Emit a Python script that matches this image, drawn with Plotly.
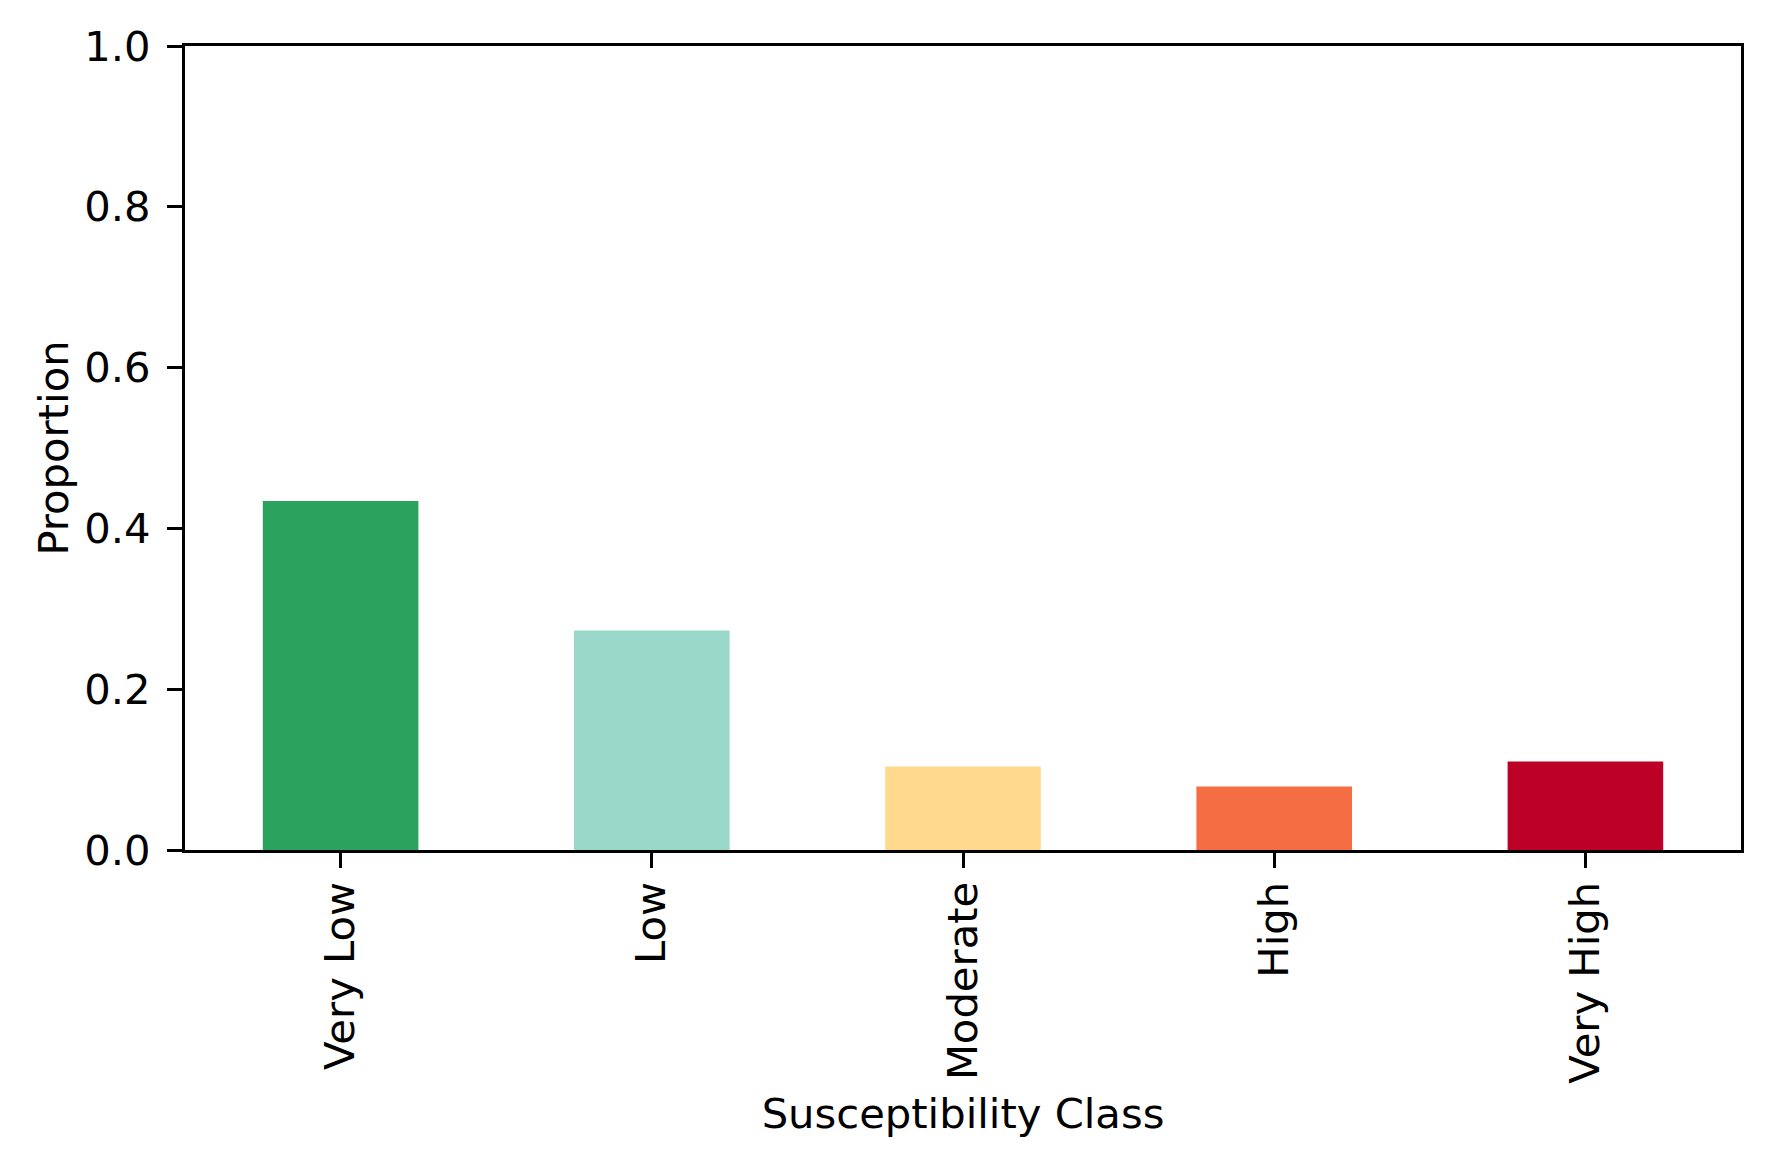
import plotly.graph_objects as go

categories = ["Very Low", "Low", "Moderate", "High", "Very High"]
proportions = [0.434, 0.273, 0.104, 0.079, 0.110]
bar_colors = ["#2ca25f", "#99d8c9", "#fed98e", "#f46d43", "#bd0026"]
y_ticks = [0.0, 0.2, 0.4, 0.6, 0.8, 1.0]

FONT = "DejaVu Sans"
FS = 41.7

fig = go.Figure(
    go.Bar(
        x=categories,
        y=proportions,
        marker=dict(color=bar_colors, line=dict(width=0)),
        showlegend=False,
    )
)

fig.update_layout(
    width=1767,
    height=1167,
    margin=dict(l=177, r=34, t=38, b=325, autoexpand=False),
    paper_bgcolor="white",
    plot_bgcolor="white",
    bargap=0.5,
    font=dict(family=FONT, size=FS, color="black"),
)

fig.update_xaxes(
    type="category",
    range=[-0.5, 4.5],
    showline=True,
    mirror=True,
    linecolor="black",
    linewidth=3.3,
    ticks="outside",
    ticklen=15,
    tickwidth=3.3,
    tickcolor="black",
    tickangle=-90,
    ticklabelstandoff=-3,
    tickfont=dict(family=FONT, size=FS, color="black"),
    showgrid=False,
    zeroline=False,
    title=dict(text="Susceptibility Class", font=dict(family=FONT, size=FS, color="black"), standoff=17),
    automargin=False,
)

fig.update_yaxes(
    range=[0, 1],
    tickvals=y_ticks,
    ticktext=[f"{v:.1f}" for v in y_ticks],
    showline=True,
    mirror=True,
    linecolor="black",
    linewidth=3.3,
    ticks="outside",
    ticklen=15,
    tickwidth=3.3,
    tickcolor="black",
    ticklabelstandoff=8,
    tickfont=dict(family=FONT, size=FS, color="black"),
    showgrid=False,
    zeroline=False,
    title=dict(text="Proportion", font=dict(family=FONT, size=FS, color="black"), standoff=3),
    automargin=False,
)

fig.write_html("out.html")
